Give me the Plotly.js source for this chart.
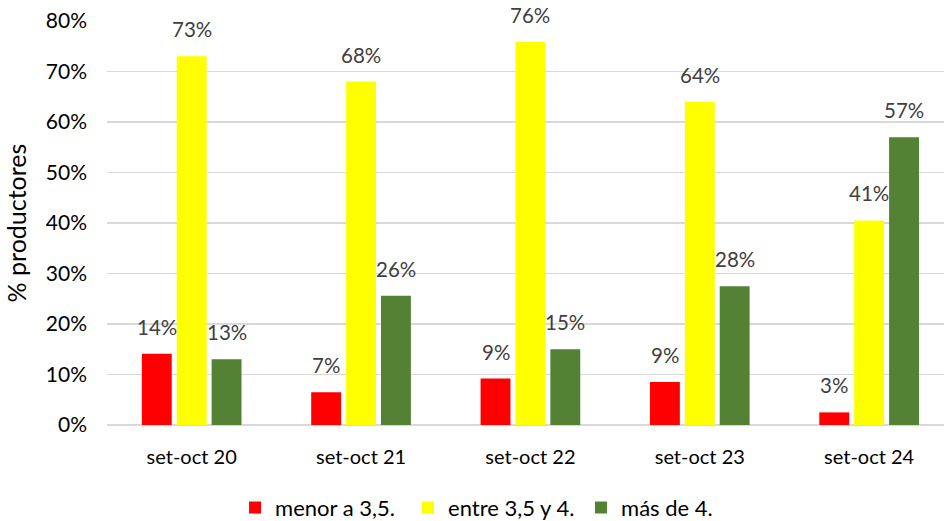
<!DOCTYPE html>
<html>
<head>
<meta charset="utf-8">
<script src="https://cdn.plot.ly/plotly-3.0.1.min.js"></script>
<style>html,body{margin:0;padding:0;background:#fff;}#chart{width:944px;height:521px;}</style>
</head>
<body>
<div id="chart"></div>
<script>
const categories = ['set-oct 20', 'set-oct 21', 'set-oct 22', 'set-oct 23', 'set-oct 24'];
const seriesNames = ['menor a 3,5.', 'entre 3,5 y 4.', 'más de 4.'];
const menor = [14.1, 6.5, 9.2, 8.5, 2.5];
const entre = [73.0, 68.0, 75.9, 64.0, 40.5];
const mas = [13.0, 25.6, 15.0, 27.5, 57.0];
const colors = ['#FF0000', '#FFFF00', '#548235'];
const tickVals = [0, 10, 20, 30, 40, 50, 60, 70, 80];

const FONT = 'Lato, "Liberation Sans", sans-serif';
const seriesVals = [menor, entre, mas];
const bargap = 0.382;
const slot = (1 - bargap) / 3;

const traces = seriesVals.map((vals, j) => ({
  type: 'bar',
  name: seriesNames[j],
  x: categories,
  y: vals,
  marker: {color: colors[j], line: {width: 0}},
  hoverinfo: 'skip'
}));

const annotations = [];
seriesVals.forEach((vals, j) => {
  vals.forEach((v, i) => {
    annotations.push({
      x: i + (j - 1) * slot,
      y: v,
      xref: 'x', yref: 'y',
      text: Math.round(v) + '%',
      showarrow: false,
      yanchor: 'bottom',
      yshift: 13,
      font: {family: FONT, size: 20.5, color: '#404040'}
    });
  });
});

const layout = {
  width: 944, height: 521,
  margin: {l: 107, r: 0, t: 21, b: 96, autoexpand: false},
  paper_bgcolor: '#fff', plot_bgcolor: '#fff',
  barmode: 'group',
  bargap: bargap,
  bargroupgap: 0.143,
  font: {family: FONT, size: 20, color: '#000'},
  xaxis: {
    type: 'category',
    range: [-0.5, 4.442],
    automargin: false,
    showgrid: false,
    showline: false,
    zeroline: false,
    ticks: '',
    ticklabelstandoff: 18,
    tickfont: {family: FONT, size: 20, color: '#000'}
  },
  yaxis: {
    range: [0, 80],
    automargin: false,
    tickvals: tickVals,
    ticktext: tickVals.map(v => v + '%'),
    showgrid: true,
    gridcolor: '#d9d9d9',
    gridwidth: 1.3,
    zeroline: true,
    zerolinecolor: '#d9d9d9',
    zerolinewidth: 1.3,
    showline: false,
    ticks: '',
    ticklabelstandoff: 19,
    tickfont: {family: FONT, size: 21, color: '#000'},
    title: {text: '% productores', font: {family: FONT, size: 25, color: '#000'}, standoff: 12}
  },
  showlegend: true,
  legend: {
    orientation: 'h',
    x: 0.463, xanchor: 'center',
    y: -0.205, yanchor: 'middle',
    entrywidth: 128,
    font: {family: FONT, size: 22, color: '#000'},
    traceorder: 'normal',
    itemclick: false
  },
  annotations: annotations
};

Plotly.newPlot('chart', traces, layout, {displayModeBar: false, staticPlot: true});
</script>
</body>
</html>
